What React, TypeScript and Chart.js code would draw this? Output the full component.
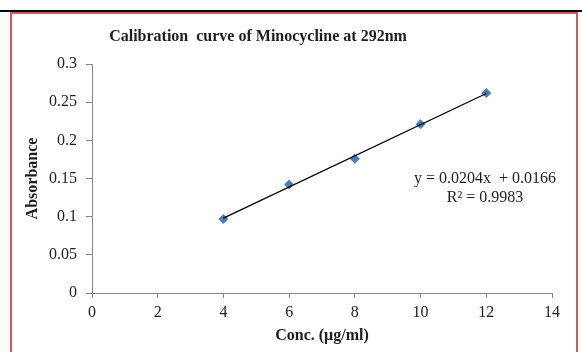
import React, { useEffect, useRef } from "react";
import { Chart, registerables } from "chart.js";

Chart.register(...registerables);

// ---- data ----
const concentrations = [4, 6, 8, 10, 12];
const absorbances = [0.097, 0.142, 0.176, 0.221, 0.262];

const xTicks = [0, 2, 4, 6, 8, 10, 12, 14];
const xTickLabels = ["0", "2", "4", "6", "8", "10", "12", "14"];
const yTicks = [0, 0.05, 0.1, 0.15, 0.2, 0.25, 0.3];
const yTickLabels = ["0", "0.05", "0.1", "0.15", "0.2", "0.25", "0.3"];

const trendSlope = 0.0204;
const trendIntercept = 0.0166;
const trendRange = [4, 12];

const chartTitle = "Calibration  curve of Minocycline at 292nm";
const equationText = "y = 0.0204x  + 0.0166";
const r2Text = "R\u00B2 = 0.9983";
const xTitle = "Conc. (\u00B5g/ml)";
const yTitle = "Absorbance";

const SERIF = "'Liberation Serif', 'Times New Roman', serif";
const AXIS_GREY = "#868686";
const TEXT = "#1e1e1e";

const textPlugin = {
  id: "texts",
  afterDraw(chart: any) {
    const ctx = chart.ctx;
    ctx.save();
    ctx.fillStyle = TEXT;
    ctx.textAlign = "center";
    ctx.textBaseline = "alphabetic";
    ctx.font = `bold 16px ${SERIF}`;
    ctx.fillText(chartTitle, 258, 41);
    ctx.font = `16px ${SERIF}`;
    ctx.fillText(equationText, 485, 183);
    ctx.fillText(r2Text, 485, 201.5);
    ctx.restore();
  },
};

export default function App() {
  const ref = useRef<HTMLCanvasElement | null>(null);

  useEffect(() => {
    if (!ref.current) return;
    const trendData = trendRange.map((x) => ({ x, y: trendSlope * x + trendIntercept }));
    const chart = new Chart(ref.current, {
      type: "scatter",
      data: {
        datasets: [
          {
            label: "trend",
            type: "line",
            data: trendData,
            borderColor: "#000000",
            borderWidth: 1.3,
            pointRadius: 0,
            showLine: true,
            order: 0,
          } as any,
          {
            label: "Absorbance",
            data: concentrations.map((x, i) => ({ x, y: absorbances[i] })),
            pointStyle: "rectRot",
            pointRadius: 5,
            backgroundColor: "#4a7ebb",
            borderColor: "#4a7ebb",
            borderWidth: 0,
            order: 1,
          },
        ],
      },
      options: {
        animation: false,
        responsive: false,
        events: [],
        layout: { padding: { top: 64, right: 30, left: 0, bottom: 0 } },
        plugins: {
          legend: { display: false },
          title: { display: false },
          tooltip: { enabled: false },
        },
        scales: {
          x: {
            type: "linear",
            min: 0,
            max: 14,
            afterBuildTicks: (s: any) => {
              s.ticks = xTicks.map((v) => ({ value: v }));
            },
            afterFit: (s: any) => {
              s.height = 59;
            },
            ticks: {
              callback: (v: any) => xTickLabels[xTicks.indexOf(Number(v))] ?? "",
              font: { family: SERIF, size: 16 },
              color: TEXT,
              padding: 5,
              maxRotation: 0,
            },
            grid: {
              display: true,
              drawOnChartArea: false,
              drawTicks: true,
              tickLength: 5,
              color: AXIS_GREY,
            },
            border: { display: true, color: AXIS_GREY, width: 1 },
            title: {
              display: true,
              text: xTitle,
              font: { family: SERIF, size: 16, weight: "bold" },
              color: TEXT,
              padding: { top: 0, bottom: 6.5 },
            },
          },
          y: {
            type: "linear",
            min: 0,
            max: 0.3,
            afterBuildTicks: (s: any) => {
              s.ticks = yTicks.map((v) => ({ value: v }));
            },
            afterFit: (s: any) => {
              s.width = 92;
            },
            ticks: {
              callback: (v: any) => {
                const i = yTicks.findIndex((t) => Math.abs(t - Number(v)) < 1e-9);
                return i >= 0 ? yTickLabels[i] : "";
              },
              font: { family: SERIF, size: 16 },
              color: TEXT,
              padding: 9,
            },
            grid: {
              display: true,
              drawOnChartArea: false,
              drawTicks: true,
              tickLength: 6,
              color: AXIS_GREY,
            },
            border: { display: true, color: AXIS_GREY, width: 1 },
            title: {
              display: true,
              text: yTitle,
              font: { family: SERIF, size: 16, weight: "bold" },
              color: TEXT,
              padding: { top: 23.5, bottom: 0 },
            },
          },
        },
      },
      plugins: [textPlugin],
    });
    return () => chart.destroy();
  }, []);

  return (
    <div
      style={{
        position: "fixed",
        left: 0,
        top: 0,
        width: 582,
        height: 352,
        overflow: "hidden",
        background: "#ffffff",
      }}
    >
      <div
        style={{
          position: "absolute",
          left: 0,
          top: 10,
          width: 582,
          height: 2,
          background: "#000000",
        }}
      />
      <div
        style={{
          position: "absolute",
          left: 10,
          top: 12,
          width: 568,
          height: 400,
          boxSizing: "border-box",
          border: "2px solid #cc5b5b",
        }}
      />
      <canvas
        ref={ref}
        width={582}
        height={352}
        style={{ position: "absolute", left: 0, top: 0, width: 582, height: 352 }}
      />
    </div>
  );
}
